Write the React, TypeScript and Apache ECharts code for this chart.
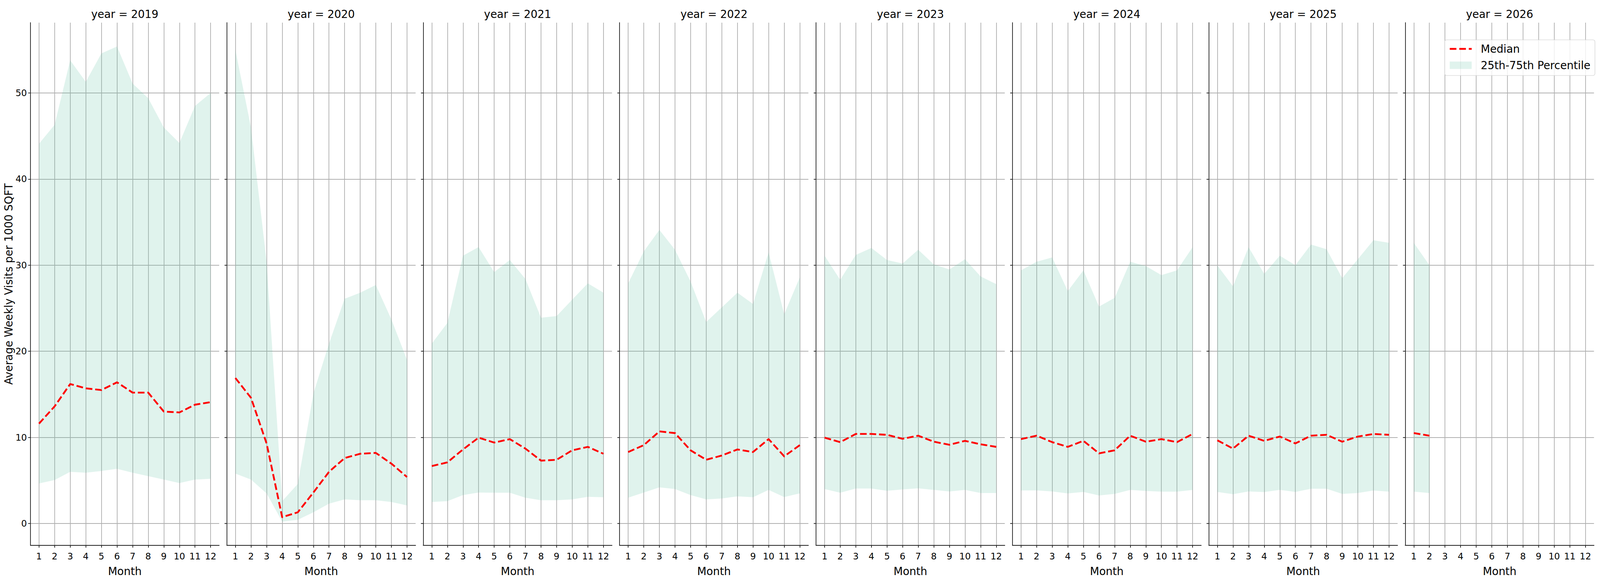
import React, { useEffect, useRef } from "react";
import * as echarts from "echarts";

// ---------------- data ----------------
const MONTHS = [1, 2, 3, 4, 5, 6, 7, 8, 9, 10, 11, 12];
const YEARS = [2019, 2020, 2021, 2022, 2023, 2024, 2025, 2026];
const Y_TICKS = [0, 10, 20, 30, 40, 50];

const MEDIAN_2019 = [11.6, 13.6, 16.2, 15.7, 15.5, 16.4, 15.2, 15.2, 13.0, 12.9, 13.8, 14.1];
const P25_2019 = [4.65, 5.05, 6.0, 5.9, 6.1, 6.35, 5.9, 5.5, 5.1, 4.7, 5.1, 5.2];
const P75_2019 = [44.1, 46.3, 53.8, 51.3, 54.6, 55.4, 51.1, 49.4, 46.0, 44.2, 48.5, 50.0];

const MEDIAN_2020 = [16.9, 14.6, 9.3, 0.74, 1.3, 3.6, 6.0, 7.6, 8.1, 8.2, 6.95, 5.4];
const P25_2020 = [5.8, 5.1, 3.5, 0.22, 0.43, 1.3, 2.3, 2.8, 2.7, 2.7, 2.5, 2.1];
const P75_2020 = [55.0, 46.0, 30.4, 2.6, 4.6, 15.1, 20.9, 26.1, 26.8, 27.7, 23.7, 19.0];

const MEDIAN_2021 = [6.67, 7.1, 8.6, 9.97, 9.4, 9.8, 8.7, 7.3, 7.4, 8.5, 8.9, 8.1];
const P25_2021 = [2.5, 2.6, 3.3, 3.6, 3.57, 3.57, 3.0, 2.7, 2.7, 2.8, 3.1, 3.05];
const P75_2021 = [20.9, 23.3, 31.1, 32.1, 29.2, 30.6, 28.4, 23.9, 24.1, 26.0, 27.9, 26.8];

const MEDIAN_2022 = [8.3, 9.1, 10.7, 10.5, 8.5, 7.4, 7.9, 8.6, 8.3, 9.8, 7.8, 9.1];
const P25_2022 = [3.0, 3.6, 4.2, 4.0, 3.3, 2.8, 2.9, 3.15, 3.05, 3.9, 3.07, 3.5];
const P75_2022 = [27.9, 31.6, 34.1, 31.8, 28.1, 23.4, 25.1, 26.8, 25.5, 31.5, 24.3, 28.6];

const MEDIAN_2023 = [9.97, 9.45, 10.4, 10.4, 10.3, 9.84, 10.2, 9.5, 9.14, 9.6, 9.2, 8.9];
const P25_2023 = [4.0, 3.57, 4.06, 4.06, 3.8, 3.96, 4.09, 3.9, 3.72, 3.9, 3.54, 3.54];
const P75_2023 = [31.1, 28.3, 31.2, 32.0, 30.6, 30.2, 31.8, 30.1, 29.5, 30.7, 28.7, 27.8];

const MEDIAN_2024 = [9.8, 10.2, 9.45, 8.9, 9.6, 8.15, 8.5, 10.2, 9.5, 9.8, 9.45, 10.4];
const P25_2024 = [3.83, 3.85, 3.72, 3.5, 3.67, 3.26, 3.44, 3.9, 3.78, 3.7, 3.7, 3.9];
const P75_2024 = [29.4, 30.4, 30.9, 27.0, 29.4, 25.2, 26.2, 30.4, 29.9, 28.85, 29.4, 32.1];

const MEDIAN_2025 = [9.66, 8.7, 10.2, 9.6, 10.1, 9.3, 10.2, 10.3, 9.5, 10.1, 10.4, 10.3];
const P25_2025 = [3.67, 3.4, 3.72, 3.65, 3.9, 3.67, 4.04, 4.04, 3.44, 3.54, 3.83, 3.7];
const P75_2025 = [29.97, 27.55, 32.1, 29.0, 31.1, 30.0, 32.4, 31.85, 28.5, 30.7, 32.9, 32.6];

const MEDIAN_2026 = [10.5, 10.2];
const P25_2026 = [3.7, 3.54];
const P75_2026 = [32.6, 30.0];

const MEDIANS = [MEDIAN_2019, MEDIAN_2020, MEDIAN_2021, MEDIAN_2022, MEDIAN_2023, MEDIAN_2024, MEDIAN_2025, MEDIAN_2026];
const P25S = [P25_2019, P25_2020, P25_2021, P25_2022, P25_2023, P25_2024, P25_2025, P25_2026];
const P75S = [P75_2019, P75_2020, P75_2021, P75_2022, P75_2023, P75_2024, P75_2025, P75_2026];

// ---------------- layout / style (reference pixels at 6000 x 1500) ----------------
const REF_W = 6000;
const REF_H = 1500;
const FONT = "DejaVu Sans";
const GRID_LEFT0 = 114;
const GRID_PITCH = 736.5;
const GRID_W = 708;
const GRID_TOP = 58;
const GRID_H = 1338;
const X_MIN = 0.45;
const X_MAX = 12.55;
const Y_MIN = -2.54;
const Y_MAX = 58.17;
const SPINE = "#222222";
const GRID_COLOR = "#b0b0b0";
const BAND_COLOR = "#66c2a5";
const RED = "#ff0000";
const TICK_FS = 27.8;
const LABEL_FS = 33.3;

function buildOption(W: number, H: number) {
  const sx = W / REF_W;
  const sy = H / REF_H;
  // text / stroke scale: balanced between the horizontal and vertical scale of the viewport
  const f = Math.min(1, Math.sqrt(sx * sy));
  const tickFs = TICK_FS * f;
  const labelFs = LABEL_FS * f;
  const lw = 2.2 * f;
  const gridLeft = (i: number) => (GRID_LEFT0 + i * GRID_PITCH) * sx;
  const gridW = GRID_W * sx;

  const grid = YEARS.map((_, i) => ({
    left: gridLeft(i),
    top: GRID_TOP * sy,
    width: gridW,
    height: GRID_H * sy,
    containLabel: false,
  }));

  const xAxis = YEARS.map((_, i) => ({
    type: "value",
    gridIndex: i,
    min: X_MIN,
    max: X_MAX,
    name: "Month",
    nameLocation: "middle",
    nameGap: 65.8 * sy - labelFs / 2,
    nameTextStyle: { fontSize: labelFs, fontFamily: FONT, color: "#000" },
    axisLine: { show: true, onZero: false, lineStyle: { color: SPINE, width: lw } },
    axisTick: { show: true, length: 7 * f, customValues: MONTHS, lineStyle: { color: SPINE, width: lw } },
    axisLabel: {
      show: true,
      customValues: MONTHS,
      margin: 27.7 * sy - tickFs / 2,
      fontSize: tickFs,
      fontFamily: FONT,
      color: "#000",
    },
    splitLine: { show: true, lineStyle: { color: GRID_COLOR, width: lw } },
  }));

  const yAxis = YEARS.map((_, i) => ({
    type: "value",
    gridIndex: i,
    min: Y_MIN,
    max: Y_MAX,
    name: i === 0 ? "Average Weekly Visits per 1000 SQFT" : "",
    nameLocation: "middle",
    nameRotate: 90,
    nameGap: 78.8 * sx - labelFs / 2,
    nameTextStyle: { fontSize: labelFs, fontFamily: FONT, color: "#000" },
    axisLine: { show: true, onZero: false, lineStyle: { color: SPINE, width: lw } },
    axisTick: { show: true, length: 7 * f, customValues: Y_TICKS, lineStyle: { color: SPINE, width: lw } },
    axisLabel: {
      show: i === 0,
      customValues: Y_TICKS,
      margin: 13 * sx,
      fontSize: tickFs,
      fontFamily: FONT,
      color: "#000",
    },
    splitLine: { show: true, lineStyle: { color: GRID_COLOR, width: lw } },
  }));

  // band rows are [value, month] with encode {x: 1, y: 0} so that stacking runs on the value (y) dimension
  const series: any[] = [];
  YEARS.forEach((_, i) => {
    const med = MEDIANS[i];
    const lo = P25S[i];
    const hi = P75S[i];
    series.push({
      type: "line",
      name: "p25-base",
      xAxisIndex: i,
      yAxisIndex: i,
      stack: "band" + i,
      encode: { x: 1, y: 0 },
      data: lo.map((v, k) => [v, MONTHS[k]]),
      symbol: "none",
      silent: true,
      lineStyle: { width: 0, opacity: 0 },
      z: 2,
    });
    series.push({
      type: "line",
      name: "25th-75th Percentile",
      xAxisIndex: i,
      yAxisIndex: i,
      stack: "band" + i,
      encode: { x: 1, y: 0 },
      data: hi.map((v, k) => [v - lo[k], MONTHS[k]]),
      symbol: "none",
      silent: true,
      lineStyle: { width: 0, opacity: 0, color: BAND_COLOR },
      itemStyle: { color: BAND_COLOR },
      areaStyle: { color: BAND_COLOR, opacity: 0.2 },
      z: 2,
    });
    series.push({
      type: "line",
      name: "Median",
      xAxisIndex: i,
      yAxisIndex: i,
      data: med.map((v, k) => [MONTHS[k], v]),
      symbol: "none",
      silent: true,
      lineStyle: { color: RED, width: 5.56 * f, type: [20.6 * f, 8.9 * f], cap: "butt", join: "round" },
      itemStyle: { color: RED },
      z: 3,
    });
  });

  const graphic = YEARS.map((y, i) => ({
    type: "text",
    x: gridLeft(i) + gridW / 2,
    y: 35.5 * sy,
    silent: true,
    style: {
      text: "year = " + y,
      fontSize: labelFs,
      fontFamily: FONT,
      fill: "#000",
      align: "center",
      verticalAlign: "middle",
      textAlign: "center",
      textVerticalAlign: "middle",
    },
  }));

  return {
    animation: false,
    backgroundColor: "#ffffff",
    grid,
    xAxis,
    yAxis,
    series,
    graphic,
    legend: {
      show: true,
      orient: "vertical",
      right: 19 * sx,
      top: 102 * sy,
      padding: [11 * f, 14 * f, 15 * f, 13 * f],
      itemWidth: 68 * f,
      itemHeight: 23 * f,
      itemGap: 16.7 * f,
      selectedMode: false,
      backgroundColor: "rgba(255,255,255,0.8)",
      borderColor: "#cccccc",
      borderWidth: 1.4 * f,
      borderRadius: 6 * f,
      textStyle: { fontSize: labelFs, fontFamily: FONT, color: "#000", padding: [0, 0, 0, 22 * f] },
      data: [
        {
          name: "Median",
          itemStyle: { opacity: 0 },
          lineStyle: { color: RED, width: 5.56 * f, type: [20.6 * f, 8.9 * f], opacity: 1 },
        },
        {
          name: "25th-75th Percentile",
          icon: "rect",
          itemStyle: { color: "rgba(102,194,165,0.2)", borderWidth: 0 },
        },
      ],
    },
  };
}

export default function App() {
  const ref = useRef<HTMLDivElement>(null);
  useEffect(() => {
    const el = ref.current;
    if (!el) return;
    const W = el.clientWidth || REF_W;
    const H = el.clientHeight || REF_H;
    const chart = echarts.init(el, undefined, { renderer: "svg", width: W, height: H });
    chart.setOption(buildOption(W, H) as any);
    return () => {
      chart.dispose();
    };
  }, []);
  return (
    <div
      ref={ref}
      style={{ position: "fixed", left: 0, top: 0, right: 0, bottom: 0, background: "#fff" }}
    />
  );
}
